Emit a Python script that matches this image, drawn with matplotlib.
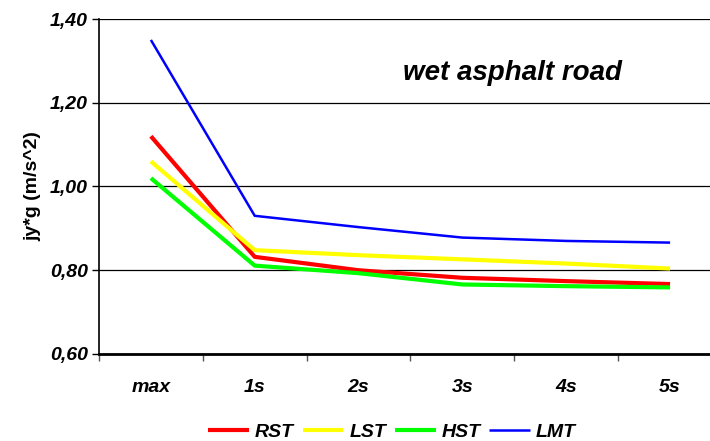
import matplotlib
matplotlib.use("Agg")
import matplotlib.pyplot as plt

categories = ["max", "1s", "2s", "3s", "4s", "5s"]
rst = [1.12, 0.832, 0.800, 0.782, 0.774, 0.767]
lst = [1.06, 0.848, 0.836, 0.826, 0.816, 0.804]
hst = [1.02, 0.811, 0.793, 0.766, 0.762, 0.759]
lmt = [1.35, 0.930, 0.903, 0.878, 0.870, 0.866]
y_ticks = [0.60, 0.80, 1.00, 1.20, 1.40]

plt.rcParams["font.family"] = ["Liberation Sans", "DejaVu Sans"]

fig = plt.figure(figsize=(7.1, 4.41), dpi=100)
ax = fig.add_axes([0.1394, 0.1973, 0.8775, 0.7596])

x = range(len(categories))
ax.plot(x, rst, color="#ff0000", lw=3.0, label="RST", solid_capstyle="butt")
ax.plot(x, lst, color="#ffff00", lw=3.0, label="LST", solid_capstyle="butt")
ax.plot(x, hst, color="#00ff00", lw=3.0, label="HST", solid_capstyle="butt")
ax.plot(x, lmt, color="#0000ff", lw=1.8, label="LMT", solid_capstyle="butt")

ax.set_xlim(-0.5, len(categories) - 0.5)
ax.set_ylim(0.60, 1.40)
ax.set_yticks(y_ticks)
ax.set_yticklabels([f"{v:.2f}".replace(".", ",") for v in y_ticks],
                   fontsize=14, fontweight="bold", fontstyle="italic")
ax.yaxis.grid(True, color="black", lw=0.9)
ax.set_axisbelow(True)

ax.set_xticks(list(x))
ax.set_xticklabels(categories, fontsize=14, fontweight="bold", fontstyle="italic")
ax.set_xticks([i - 0.5 for i in range(len(categories) + 1)], minor=True)
ax.tick_params(axis="x", which="major", length=0, pad=18)
ax.tick_params(axis="x", which="minor", length=5, width=1, direction="out", color="#555555")
ax.tick_params(axis="y", length=5, width=1, pad=3)

for side in ("top", "right"):
    ax.spines[side].set_visible(False)
ax.spines["left"].set_linewidth(1.2)
ax.spines["bottom"].set_linewidth(2.0)

ax.set_ylabel("jy*g (m/s^2)", fontsize=14, fontweight="bold", labelpad=6)

ax.text(0.664, 0.839, "wet asphalt road", transform=ax.transAxes,
        ha="center", va="center", fontsize=20, fontweight="bold", fontstyle="italic")

fig.legend(loc="center", bbox_to_anchor=(392 / 710, 9 / 441), ncol=4, frameon=False,
           prop=dict(size=14, weight="bold", style="italic"),
           handlelength=2.1, handletextpad=0.3, columnspacing=0.45, borderpad=0)

fig.savefig("out.png", dpi=100)
